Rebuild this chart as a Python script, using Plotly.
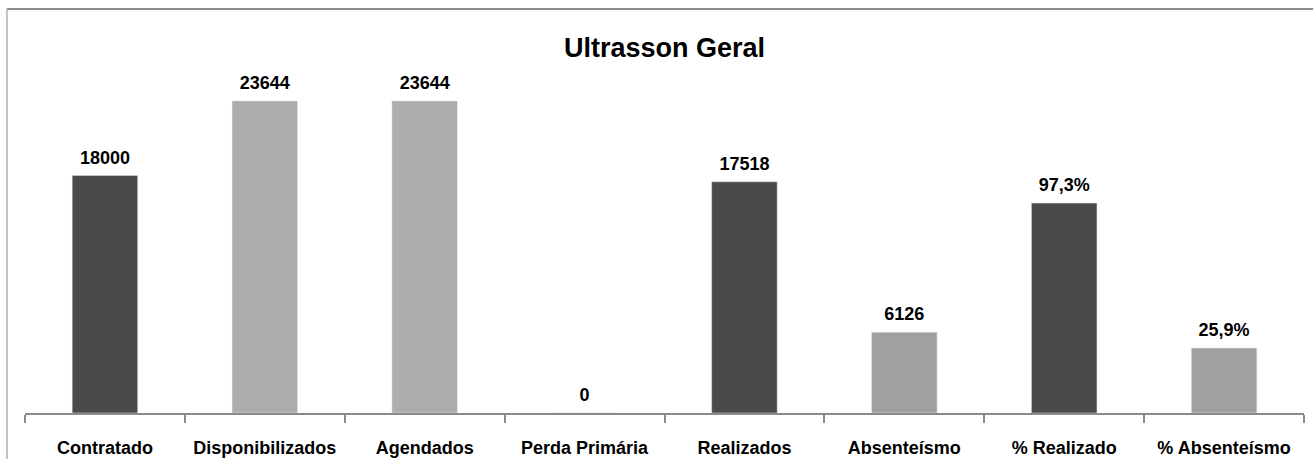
import plotly.graph_objects as go

categories = ["Contratado", "Disponibilizados", "Agendados", "Perda Primária",
              "Realizados", "Absenteísmo", "% Realizado", "% Absenteísmo"]
count_categories = categories[:6]
count_values = [18000, 23644, 23644, 0, 17518, 6126]
pct_categories = categories[6:]
pct_values = [0.973, 0.259]

DARK = "#4a4a4a"
LIGHT = "#adadad"
MID = "#a0a0a0"
count_colors = [DARK, LIGHT, LIGHT, LIGHT, DARK, MID]
pct_colors = [DARK, MID]

count_text = [str(v) for v in count_values]
pct_text = [("%.1f%%" % (v * 100)).replace(".", ",") for v in pct_values]

PCT_MIN = -0.061
PCT_MAX = 1.889

FONT = "Liberation Sans, Arial, sans-serif"

fig = go.Figure()
fig.add_trace(go.Bar(x=count_categories, y=count_values, marker_color=count_colors,
                     width=0.41, yaxis="y", hoverinfo="skip", showlegend=False))
fig.add_trace(go.Bar(x=pct_categories, y=[v - PCT_MIN for v in pct_values], base=PCT_MIN,
                     marker_color=pct_colors, width=0.41, yaxis="y2",
                     hoverinfo="skip", showlegend=False))
fig.add_trace(go.Scatter(x=count_categories, y=count_values, mode="markers+text",
                         text=count_text, textposition="top center",
                         marker=dict(size=10, opacity=0),
                         textfont=dict(family=FONT, size=18, color="black", weight="bold"),
                         cliponaxis=False, yaxis="y", hoverinfo="skip", showlegend=False))
fig.add_trace(go.Scatter(x=pct_categories, y=pct_values, mode="markers+text",
                         text=pct_text, textposition="top center",
                         marker=dict(size=10, opacity=0),
                         textfont=dict(family=FONT, size=18, color="black", weight="bold"),
                         cliponaxis=False, yaxis="y2", hoverinfo="skip", showlegend=False))

fig.update_layout(
    width=1313, height=459,
    margin=dict(l=25, r=9, t=17, b=46),
    paper_bgcolor="white", plot_bgcolor="white",
    barmode="overlay",
    title=dict(text="<b>Ultrasson Geral</b>", x=0.5, xref="paper", xanchor="center",
               y=1 - 48 / 459, yref="container", yanchor="middle",
               font=dict(family=FONT, size=27, color="black")),
    xaxis=dict(categoryorder="array", categoryarray=categories,
               showline=True, linecolor="#8a8a8a", linewidth=1.5,
               ticks="outside", ticklen=8, tickcolor="#8a8a8a", tickwidth=1.5,
               tickson="boundaries", showgrid=False, zeroline=False,
               ticklabelstandoff=18, automargin=False,
               tickfont=dict(family=FONT, size=18, color="black", weight="bold")),
    yaxis=dict(range=[0, 30000], visible=False, showgrid=False, zeroline=False),
    yaxis2=dict(range=[PCT_MIN, PCT_MAX], overlaying="y", visible=False,
                showgrid=False, zeroline=False),
    shapes=[
        dict(type="line", xref="paper", yref="paper", x0=-0.0141, x1=1.05, y0=1.0202, y1=1.0202,
             line=dict(color="#8c8c8c", width=2)),
        dict(type="line", xref="paper", yref="paper", x0=-0.0141, x1=-0.0141, y0=1.0202, y1=-0.3,
             line=dict(color="#b0b0b0", width=1.5)),
    ],
)

fig.write_html("out.html", config={"displayModeBar": False},
               post_script="document.body.style.margin='0';document.body.style.overflow='hidden';")
